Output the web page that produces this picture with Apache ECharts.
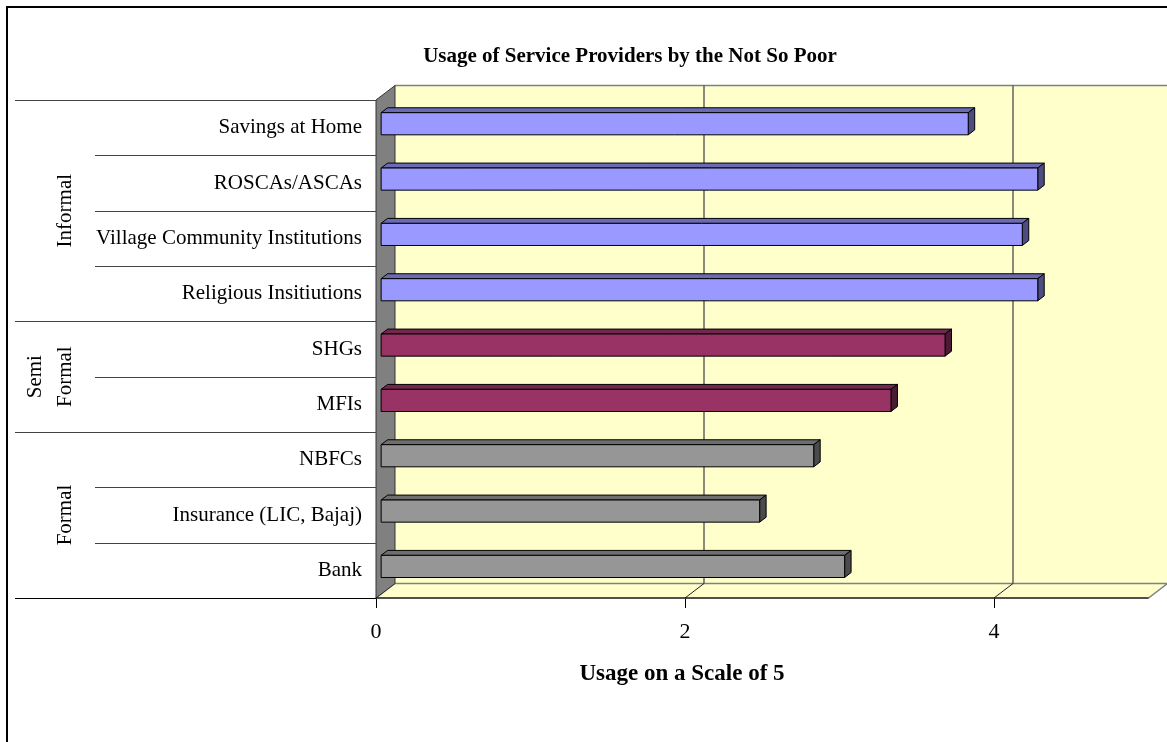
<!DOCTYPE html>
<html>
<head>
  <meta charset="utf-8">
  <title>Usage of Service Providers by the Not So Poor</title>
  <script src="https://cdn.jsdelivr.net/npm/echarts@6/dist/echarts.min.js"></script>
  <style>
    html, body { margin: 0; padding: 0; background: #fff; }
    #chart { width: 1167px; height: 742px; }
  </style>
</head>
<body>
  <div id="chart"></div>
  <script>
    // data
    const categories = [
      'Savings at Home',
      'ROSCAs/ASCAs',
      'Village Community Institutions',
      'Religious Insitiutions',
      'SHGs',
      'MFIs',
      'NBFCs',
      'Insurance (LIC, Bajaj)',
      'Bank'
    ];
    const usage = [3.8, 4.25, 4.15, 4.25, 3.65, 3.3, 2.8, 2.45, 3.0];
    const groupOf = ['Informal', 'Informal', 'Informal', 'Informal',
                     'Semi Formal', 'Semi Formal', 'Formal', 'Formal', 'Formal'];
    const groupNames = ['Informal', 'Semi Formal', 'Formal'];
    const groupLabels = ['Informal', 'Semi\nFormal', 'Formal'];
    const xTicks = [0, 2, 4];
    const wallLines = [2, 4];

    const FONT = '"Liberation Serif", "Times New Roman", serif';
    // 3d depth of the plot box (px)
    const DX = 19, DY = -14.5;

    const colors = {
      'Informal':    { front: '#9999FF', top: '#6B6BB3', side: '#4D4D80' },
      'Semi Formal': { front: '#993366', top: '#732650', side: '#4D1A33' },
      'Formal':      { front: '#969696', top: '#6E6E6E', side: '#4B4B4B' }
    };

    function renderWalls(params, api) {
      const cs = params.coordSys;
      const L = cs.x, T = cs.y, R = cs.x + cs.width, B = cs.y + cs.height;
      const band = api.size([0, 1])[1];
      const kids = [];

      // back wall
      kids.push({ type: 'polygon',
        shape: { points: [[L + DX, T + DY], [R + DX, T + DY], [R + DX, B + DY], [L + DX, B + DY]] },
        style: { fill: '#FFFFCC', stroke: null } });
      kids.push({ type: 'line', shape: { x1: L + DX, y1: T + DY, x2: R + DX, y2: T + DY },
        style: { stroke: '#808080', lineWidth: 1.5 } });
      // floor
      kids.push({ type: 'polygon',
        shape: { points: [[L, B], [L + DX, B + DY], [R + DX, B + DY], [R, B]] },
        style: { fill: '#FFFFCC', stroke: '#808080', lineWidth: 1.5 } });
      // lines on the back wall
      wallLines.forEach(v => {
        const x = api.coord([v, 0])[0];
        kids.push({ type: 'line', shape: { x1: x + DX, y1: T + DY, x2: x + DX, y2: B + DY },
          style: { stroke: '#4d4d4d', lineWidth: 1.3 } });
        kids.push({ type: 'line', shape: { x1: x + DX, y1: B + DY, x2: x, y2: B },
          style: { stroke: '#222', lineWidth: 1 } });
      });
      // left wall
      kids.push({ type: 'polygon',
        shape: { points: [[L, T], [L + DX, T + DY], [L + DX, B + DY], [L, B]] },
        style: { fill: '#808080', stroke: '#333', lineWidth: 1 } });
      // front edge of floor
      kids.push({ type: 'line', shape: { x1: L, y1: B, x2: R, y2: B },
        style: { stroke: '#000', lineWidth: 1 } });

      // row separators to the left of the plot
      for (let i = 0; i <= categories.length; i++) {
        const y = (i < categories.length ? api.coord([0, i])[1] : api.coord([0, i - 1])[1] + band) - band / 2;
        const isGroup = i === 0 || i === categories.length || groupOf[i] !== groupOf[i - 1];
        kids.push({ type: 'line',
          shape: { x1: isGroup ? 15 : 95, y1: Math.round(y) + 0.5, x2: L, y2: Math.round(y) + 0.5 },
          style: { stroke: i === categories.length ? '#000' : '#444', lineWidth: 1 } });
      }

      // group names, rotated
      groupNames.forEach((g, k) => {
        const first = groupOf.indexOf(g), last = groupOf.lastIndexOf(g);
        const yc = (api.coord([0, first])[1] + api.coord([0, last])[1]) / 2;
        const lines = groupLabels[k].split('\n').length;
        kids.push({ type: 'text', x: 65 - (lines - 1) * 15, y: yc, rotation: Math.PI / 2,
          style: { text: groupLabels[k], font: '21px ' + FONT, fill: '#000',
                   align: 'center', verticalAlign: 'middle', lineHeight: 30 } });
      });

      return { type: 'group', children: kids };
    }

    function renderBar(params, api) {
      const v = api.value(0), i = api.value(1);
      const p0 = api.coord([0, i]), p1 = api.coord([v, i]);
      const band = api.size([0, 1])[1];
      const h = band * 0.4;
      const fdx = DX * 0.27, fdy = DY * 0.27;   // front face sits a bit into the box
      const bdx = DX * 0.34, bdy = DY * 0.34;   // bar depth
      const x0 = p0[0] + fdx, x1 = p1[0] + fdx;
      const top = p0[1] + fdy - h / 2;
      const c = colors[groupOf[i]];
      const edge = { stroke: '#000', lineWidth: 1 };
      return { type: 'group', children: [
        { type: 'polygon', shape: { points: [[x0, top], [x1, top], [x1 + bdx, top + bdy], [x0 + bdx, top + bdy]] },
          style: Object.assign({ fill: c.top }, edge) },
        { type: 'polygon', shape: { points: [[x1, top], [x1 + bdx, top + bdy], [x1 + bdx, top + h + bdy], [x1, top + h]] },
          style: Object.assign({ fill: c.side }, edge) },
        { type: 'rect', shape: { x: x0, y: top, width: x1 - x0, height: h },
          style: Object.assign({ fill: c.front }, edge) }
      ] };
    }

    const chart = echarts.init(document.getElementById('chart'));
    chart.setOption({
      animation: false,
      backgroundColor: '#fff',
      grid: { left: 376, top: 100, width: 772.5, height: 498 },
      xAxis: {
        type: 'value', min: 0, max: 5, interval: 1,
        axisLine: { show: false },
        axisTick: { show: true, length: 10, customValues: xTicks, lineStyle: { color: '#000' } },
        axisLabel: { customValues: xTicks, margin: 23, fontFamily: FONT, fontSize: 22, color: '#000' },
        splitLine: { show: false }
      },
      yAxis: {
        type: 'category', inverse: true, data: categories,
        axisLine: { show: false }, axisTick: { show: false },
        axisLabel: { margin: 14, fontFamily: FONT, fontSize: 21, color: '#000' }
      },
      graphic: [
        { type: 'polyline', shape: { points: [[7, 742], [7, 7], [1167, 7]] },
          style: { stroke: '#000', lineWidth: 2, fill: null } },
        { type: 'text', x: 630, y: 57,
          style: { text: 'Usage of Service Providers by the Not So Poor', font: 'bold 21px ' + FONT,
                   fill: '#000', align: 'center', verticalAlign: 'middle' } },
        { type: 'text', x: 682, y: 674,
          style: { text: 'Usage on a Scale of 5', font: 'bold 23px ' + FONT,
                   fill: '#000', align: 'center', verticalAlign: 'middle' } }
      ],
      series: [
        { type: 'custom', name: 'walls', z: 1, clip: false, silent: true,
          renderItem: renderWalls, data: [[0, 0]], encode: { x: 0, y: 1 } },
        { type: 'custom', name: 'Usage', z: 3, clip: false,
          renderItem: renderBar, data: usage.map((v, i) => [v, i]), encode: { x: 0, y: 1 } }
      ]
    });
  </script>
</body>
</html>
